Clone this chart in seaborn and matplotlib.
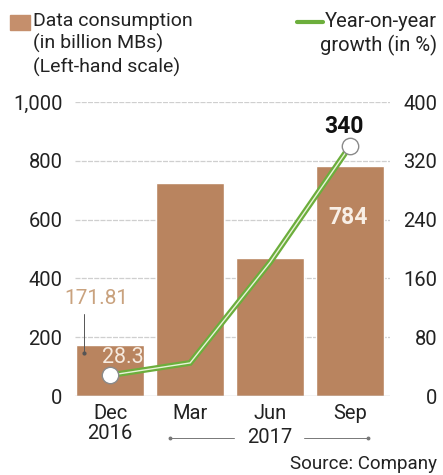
import matplotlib
matplotlib.use("Agg")
import matplotlib.pyplot as plt
import seaborn as sns
import numpy as np
import pandas as pd

# ---- data ----
periods = ["Dec\n2016", "Mar", "Jun", "Sep"]
consumption = [171.81, 725, 468, 784]      # billion MBs, left scale
growth = [28.3, 45, 182, 340]               # year-on-year %, right scale
left_ticks = [0, 200, 400, 600, 800, 1000]
left_tick_labels = ["0", "200", "400", "600", "800", "1,000"]
right_ticks = [0, 80, 160, 240, 320, 400]
right_tick_labels = ["0", "80", "160", "240", "320", "400"]

BAR = "#b9845f"
GREEN = "#6cae3c"
FONT = ["Roboto", "DejaVu Sans"]
FS = 14.5

sns.set_theme(style="white")
plt.rcParams["font.family"] = FONT

W, H = 443, 475
fig = plt.figure(figsize=(W / 100, H / 100), dpi=100)
ax = fig.add_axes([75 / W, 1 - 396 / H, 315 / W, 294 / H])

df = pd.DataFrame({"period": periods, "consumption": consumption})
sns.barplot(data=df, x="period", y="consumption", color=BAR, saturation=1,
            width=0.85, ax=ax, zorder=2)
ax.set_xlim(-0.44, 3.5)
ax.set_ylim(0, 1000)
ax.set_xlabel("")
ax.set_ylabel("")
ax.set_yticks(left_ticks)
ax.set_yticklabels(left_tick_labels, fontsize=FS, color="#222222")
ax.tick_params(axis="y", length=0, pad=9)
ax.tick_params(axis="x", length=0, pad=6, labelsize=FS, labelcolor="#222222")
for lbl in ax.get_xticklabels():
    lbl.set_linespacing(1.05)
for s in ax.spines.values():
    s.set_visible(False)
for t in left_ticks[1:]:
    ax.axhline(t, color="#cfcfcf", lw=0.9, ls=(0, (4, 1)), zorder=1)
ax.axhline(0, color="#bdbdbd", lw=1.0, zorder=3)

# ---- growth line on right axis ----
ax2 = ax.twinx()
ax2.set_ylim(0, 400)
gx = np.arange(len(growth))
sns.lineplot(x=gx, y=growth, ax=ax2, color=GREEN, lw=4.2, zorder=4,
             solid_joinstyle="miter")
sns.lineplot(x=gx, y=growth, ax=ax2, color="#e8f3d8", lw=1.0, zorder=5)
ax2.scatter([gx[0], gx[-1]], [growth[0], growth[-1]], s=140, facecolor="white",
            edgecolor="#8a8a8a", lw=1.0, zorder=6)
ax2.set_yticks(right_ticks)
ax2.set_yticklabels(right_tick_labels, fontsize=FS, color="#222222")
for lbl in ax2.get_yticklabels():
    lbl.set_horizontalalignment("right")
ax2.tick_params(axis="y", length=0, pad=34)
ax2.set_ylabel("")
for s in ax2.spines.values():
    s.set_visible(False)
ax2.set_xlim(-0.44, 3.5)

# ---- annotations ----
ax.text(-0.17, 332, f"{consumption[0]:.2f}", ha="center", va="center",
        fontsize=15, color="#c9a27e", zorder=7)
ax.plot([-0.33, -0.33], [280, 145], color="#555555", lw=0.7, zorder=7)
ax.plot([-0.33], [145], marker="o", ms=2, color="#555555", zorder=7)
ax2.text(0.16, 52, f"{growth[0]}", ha="center", va="center", fontsize=15.5,
         color="#f6ebe0", zorder=7)
ax2.text(2.93, 366, f"{growth[3]:.0f}", ha="center", va="center",
         fontsize=16.5, fontweight="bold", color="#111111", zorder=7)
ax.text(2.98, 608, f"{consumption[3]:.0f}", ha="center", va="center",
        fontsize=16.5, fontweight="bold", color="#f8efe6", zorder=7)

# "2017" with bracket lines
tr = ax.get_xaxis_transform()
ax.text(2.0, -0.142, "2017", transform=tr, ha="center", va="center",
        fontsize=FS, color="#222222")
for x0, x1 in [(0.75, 1.55), (2.43, 3.22)]:
    ax.plot([x0, x1], [-0.142, -0.142], transform=tr, color="#777777",
            lw=0.7, clip_on=False)
ax.plot([0.75, 3.22], [-0.142, -0.142], transform=tr, ls="none", marker="o",
        ms=1.8, color="#777777", clip_on=False)

# ---- legend ----
fig.patches.append(plt.Rectangle((10 / W, 1 - 30 / H), 20 / W, 15 / H,
                                 transform=fig.transFigure, color="#c58f6c"))
fig.text(33 / W, 1 - 12 / H,
         "Data consumption\n(in billion MBs)\n(Left-hand scale)",
         ha="left", va="top", fontsize=14, color="#222222",
         linespacing=1.28)
fig.lines.append(plt.Line2D([297 / W, 323 / W], [1 - 22 / H, 1 - 22 / H],
                            transform=fig.transFigure, color=GREEN, lw=3))
fig.text(437 / W, 1 - 12 / H, "Year-on-year\ngrowth (in %)", ha="right",
         va="top", fontsize=14.5, color="#222222", linespacing=1.22)

fig.text(437 / W, 1 - 464 / H, "Source: Company", ha="right", va="center",
         fontsize=13.5, color="#222222")

fig.savefig("out.png", dpi=100)
